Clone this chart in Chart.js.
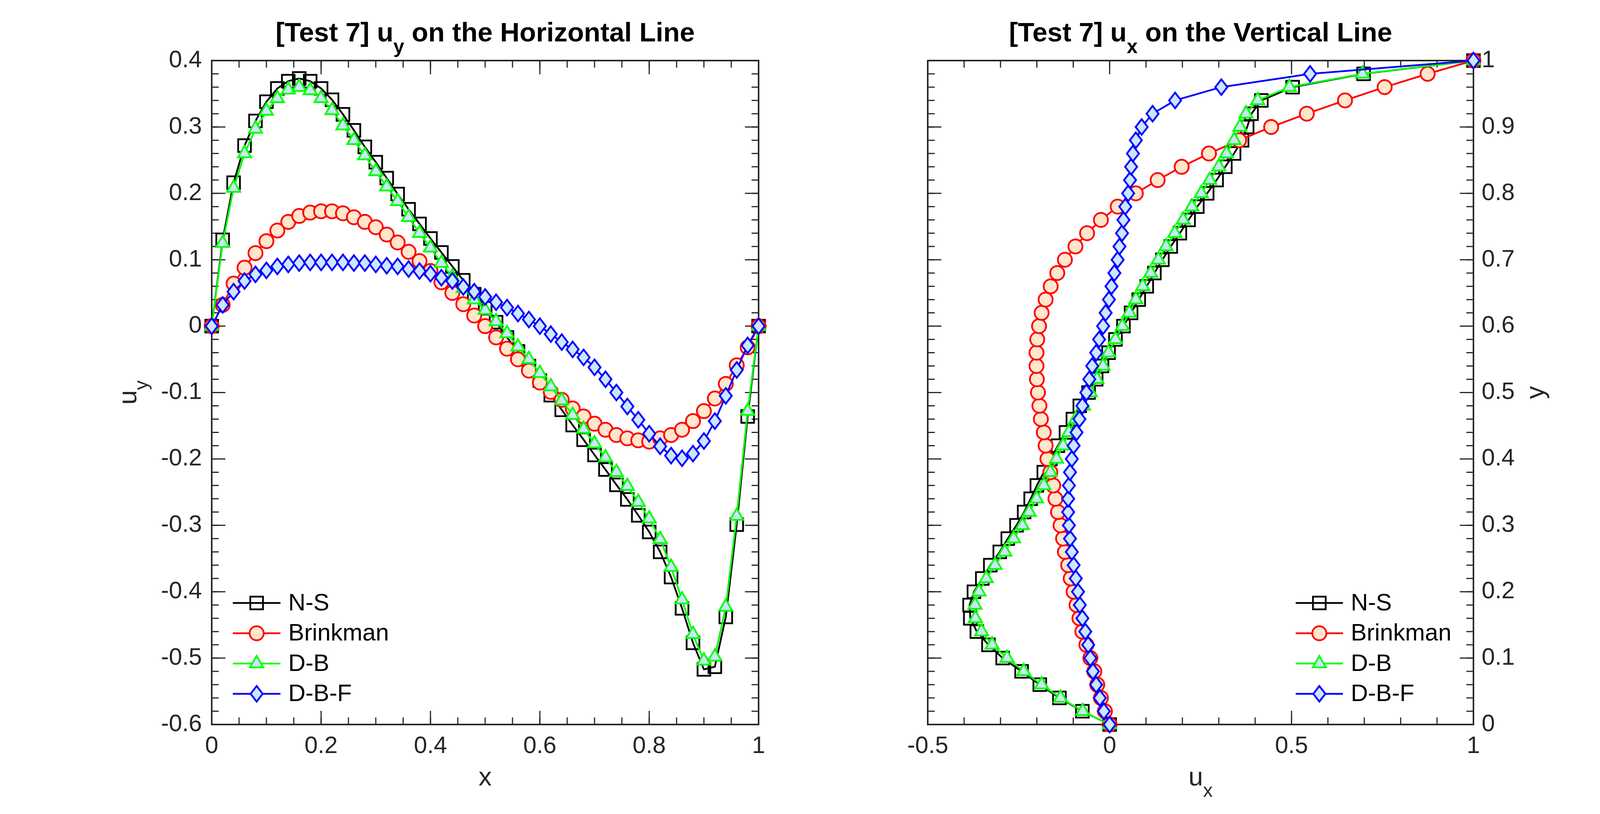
<!DOCTYPE html>
<html>
<head>
<meta charset="utf-8">
<title>[Test 7] velocity profiles</title>
<script src="https://cdn.jsdelivr.net/npm/chart.js@4.4.1/dist/chart.umd.min.js"></script>
<style>
    html, body { margin: 0; padding: 0; background: #ffffff; }
    .plot { position: absolute; left: 0; top: 0; }
</style>
</head>
<body>
<canvas id="horizontalChart" class="plot" width="4167" height="2083"></canvas>
<canvas id="verticalChart" class="plot" width="4167" height="2083"></canvas>
<script>
// sample positions along both centre lines (x for the left plot, y for the right one)
const gridPoints = [
    0, 0.02, 0.04, 0.06, 0.08, 0.10, 0.12, 0.14, 0.16, 0.18,
    0.20, 0.22, 0.24, 0.26, 0.28, 0.30, 0.32, 0.34, 0.36, 0.38,
    0.40, 0.42, 0.44, 0.46, 0.48, 0.50, 0.52, 0.54, 0.56, 0.58,
    0.60, 0.62, 0.64, 0.66, 0.68, 0.70, 0.72, 0.74, 0.76, 0.78,
    0.80, 0.82, 0.84, 0.86, 0.88, 0.90, 0.92, 0.94, 0.96, 0.98, 1
];

const seriesNames = ['N-S', 'Brinkman', 'D-B', 'D-B-F'];

// u_y on the horizontal line
const uyNS = [
    0, 0.130, 0.216, 0.272, 0.309, 0.338, 0.358, 0.369, 0.373, 0.369,
    0.358, 0.341, 0.319, 0.295, 0.270, 0.247, 0.223, 0.199, 0.176, 0.154,
    0.132, 0.111, 0.090, 0.069, 0.048, 0.027, 0.006, -0.017, -0.038, -0.060,
    -0.082, -0.104, -0.126, -0.149, -0.171, -0.194, -0.216, -0.239, -0.261, -0.285,
    -0.310, -0.340, -0.378, -0.425, -0.477, -0.517, -0.513, -0.438, -0.299, -0.136, 0
];
const uyBrinkman = [
    0, 0.032, 0.064, 0.088, 0.110, 0.128, 0.144, 0.157, 0.166, 0.171,
    0.173, 0.173, 0.170, 0.164, 0.157, 0.149, 0.138, 0.126, 0.112, 0.098,
    0.083, 0.066, 0.050, 0.033, 0.016, 0.000, -0.017, -0.034, -0.050, -0.067,
    -0.085, -0.099, -0.111, -0.124, -0.136, -0.147, -0.156, -0.164, -0.169, -0.172,
    -0.174, -0.169, -0.164, -0.156, -0.143, -0.128, -0.109, -0.087, -0.059, -0.032, 0
];
const uyDB = [
    0, 0.125, 0.208, 0.260, 0.297, 0.324, 0.343, 0.356, 0.360, 0.355,
    0.343, 0.325, 0.302, 0.280, 0.257, 0.233, 0.210, 0.188, 0.164, 0.140,
    0.118, 0.095, 0.074, 0.057, 0.040, 0.024, 0.007, -0.011, -0.031, -0.050,
    -0.071, -0.091, -0.112, -0.134, -0.155, -0.177, -0.198, -0.220, -0.241, -0.265,
    -0.290, -0.321, -0.363, -0.412, -0.464, -0.504, -0.498, -0.423, -0.286, -0.128, 0
];
const uyDBF = [
    0, 0.032, 0.052, 0.068, 0.078, 0.084, 0.090, 0.093, 0.095, 0.096,
    0.096, 0.096, 0.096, 0.095, 0.095, 0.093, 0.091, 0.090, 0.086, 0.083,
    0.079, 0.073, 0.068, 0.059, 0.052, 0.044, 0.036, 0.028, 0.019, 0.010,
    0.000, -0.012, -0.024, -0.035, -0.047, -0.062, -0.080, -0.100, -0.121, -0.141,
    -0.162, -0.181, -0.195, -0.199, -0.192, -0.173, -0.143, -0.105, -0.066, -0.029, 0
];

// u_x on the vertical line (listed from y = 0 up to y = 1)
const uxNS = [
    0, -0.075, -0.138, -0.192, -0.242, -0.294, -0.333, -0.365, -0.383, -0.385,
    -0.373, -0.350, -0.328, -0.302, -0.280, -0.256, -0.235, -0.217, -0.200, -0.181,
    -0.163, -0.142, -0.120, -0.101, -0.082, -0.058, -0.037, -0.021, -0.003, 0.016,
    0.038, 0.059, 0.080, 0.102, 0.123, 0.145, 0.168, 0.193, 0.217, 0.241,
    0.268, 0.294, 0.318, 0.342, 0.364, 0.378, 0.390, 0.417, 0.503, 0.698, 1
];
const uxBrinkman = [
    0, -0.013, -0.024, -0.034, -0.042, -0.053, -0.064, -0.075, -0.083, -0.091,
    -0.099, -0.107, -0.114, -0.123, -0.128, -0.135, -0.142, -0.149, -0.155, -0.163,
    -0.171, -0.176, -0.181, -0.189, -0.193, -0.197, -0.200, -0.201, -0.201, -0.199,
    -0.194, -0.187, -0.176, -0.162, -0.144, -0.123, -0.094, -0.062, -0.024, 0.022,
    0.072, 0.132, 0.198, 0.273, 0.356, 0.444, 0.542, 0.647, 0.756, 0.874, 1
];
const uxDB = [
    0, -0.074, -0.135, -0.187, -0.236, -0.282, -0.323, -0.352, -0.369, -0.370,
    -0.359, -0.339, -0.315, -0.288, -0.264, -0.240, -0.221, -0.201, -0.181, -0.163,
    -0.146, -0.128, -0.112, -0.093, -0.072, -0.053, -0.035, -0.018, -0.003, 0.016,
    0.035, 0.054, 0.072, 0.091, 0.113, 0.134, 0.155, 0.179, 0.202, 0.226,
    0.252, 0.275, 0.300, 0.321, 0.342, 0.358, 0.375, 0.407, 0.494, 0.695, 1
];
const uxDBF = [
    0, -0.016, -0.027, -0.037, -0.046, -0.053, -0.059, -0.067, -0.075, -0.082,
    -0.087, -0.093, -0.099, -0.104, -0.109, -0.112, -0.114, -0.114, -0.112, -0.109,
    -0.104, -0.099, -0.091, -0.083, -0.075, -0.064, -0.056, -0.048, -0.037, -0.029,
    -0.018, -0.011, -0.002, 0.005, 0.013, 0.022, 0.027, 0.034, 0.038, 0.043,
    0.051, 0.056, 0.059, 0.064, 0.072, 0.088, 0.118, 0.180, 0.307, 0.551, 1
];

// tick labels
const leftXTicks = [0, 0.2, 0.4, 0.6, 0.8, 1];
const leftYTicks = [-0.6, -0.5, -0.4, -0.3, -0.2, -0.1, 0, 0.1, 0.2, 0.3, 0.4];
const rightXTicks = [-0.5, 0, 0.5, 1];
const rightYTicks = [0, 0.1, 0.2, 0.3, 0.4, 0.5, 0.6, 0.7, 0.8, 0.9, 1];

const PAGE_W = 4167;
const PAGE_H = 2083;
const FONT_FAMILY = '"Liberation Sans", Arial, Helvetica, sans-serif';
const AXIS_COLOR = '#262626';
const LINE_W = 4.5;

// MATLAB's diamond marker is taller than it is wide, so draw it once into a small canvas
function diamondMarker(w, h, lw, stroke, fill) {
    const c = document.createElement('canvas');
    c.width = Math.ceil(w + lw * 2 + 8);
    c.height = Math.ceil(h + lw * 2 + 10);
    const g = c.getContext('2d');
    const cx = c.width / 2;
    const cy = c.height / 2;
    g.beginPath();
    g.moveTo(cx, cy - h / 2);
    g.lineTo(cx + w / 2, cy);
    g.lineTo(cx, cy + h / 2);
    g.lineTo(cx - w / 2, cy);
    g.closePath();
    g.fillStyle = fill;
    g.fill();
    g.lineWidth = lw;
    g.strokeStyle = stroke;
    g.stroke();
    return c;
}

const seriesStyles = [
    { color: '#000000', fill: 'rgba(0,0,0,0)', pointStyle: 'rect', radius: 23 },
    { color: '#ff0000', fill: '#ffe6cc', pointStyle: 'circle', radius: 18 },
    { color: '#00ff00', fill: '#cce6ff', pointStyle: 'triangle', radius: 19.5 },
    { color: '#0000ff', fill: '#cce6ff', pointStyle: diamondMarker(31, 40, LINE_W, '#0000ff', '#cce6ff'), radius: 19 }
];

function formatTick(value) {
    return String(Math.round(value * 10) / 10);
}

function drawRichText(ctx, parts, x, y, size, weight, color, angle) {
    const subSize = Math.round(size * 0.73);
    const shift = Math.round(size * 0.44);
    const fontFor = sub => `${weight} ${sub ? subSize : size}px ${FONT_FAMILY}`;
    ctx.save();
    ctx.translate(x, y);
    if (angle) ctx.rotate(angle);
    ctx.fillStyle = color;
    ctx.textAlign = 'left';
    ctx.textBaseline = 'alphabetic';
    let total = 0;
    parts.forEach(p => {
        ctx.font = fontFor(p[1]);
        total += ctx.measureText(p[0]).width;
    });
    let cx = -total / 2;
    parts.forEach(p => {
        ctx.font = fontFor(p[1]);
        ctx.fillText(p[0], cx, p[1] ? shift : 0);
        cx += ctx.measureText(p[0]).width;
    });
    ctx.restore();
}

// box with inward ticks on all four sides, MATLAB style
const boxTicks = {
    id: 'boxTicks',
    beforeDatasetsDraw(chart, args, opts) {
        const { ctx, chartArea: a } = chart;
        const xs = chart.scales.x;
        const ys = chart.scales.y;
        ctx.save();
        ctx.strokeStyle = AXIS_COLOR;
        ctx.lineWidth = 3;
        const marks = (scale, step, len) => {
            const n = Math.round((scale.max - scale.min) / step);
            for (let i = 0; i <= n; i++) {
                const p = scale.getPixelForValue(scale.min + i * step);
                ctx.beginPath();
                if (scale === xs) {
                    ctx.moveTo(p, a.bottom); ctx.lineTo(p, a.bottom - len);
                    ctx.moveTo(p, a.top); ctx.lineTo(p, a.top + len);
                } else {
                    ctx.moveTo(a.left, p); ctx.lineTo(a.left + len, p);
                    ctx.moveTo(a.right, p); ctx.lineTo(a.right - len, p);
                }
                ctx.stroke();
            }
        };
        marks(xs, opts.xMinor, 18);
        marks(ys, opts.yMinor, 18);
        xs.ticks.forEach(t => {
            const p = xs.getPixelForValue(t.value);
            ctx.beginPath();
            ctx.moveTo(p, a.bottom); ctx.lineTo(p, a.bottom - 35);
            ctx.moveTo(p, a.top); ctx.lineTo(p, a.top + 35);
            ctx.stroke();
        });
        ys.ticks.forEach(t => {
            const p = ys.getPixelForValue(t.value);
            ctx.beginPath();
            ctx.moveTo(a.left, p); ctx.lineTo(a.left + 35, p);
            ctx.moveTo(a.right, p); ctx.lineTo(a.right - 35, p);
            ctx.stroke();
        });
        ctx.lineWidth = 4;
        ctx.strokeRect(a.left, a.top, a.right - a.left, a.bottom - a.top);
        ctx.restore();
    }
};

const boxLegend = {
    id: 'boxLegend',
    afterDatasetsDraw(chart, args, opts) {
        const ctx = chart.ctx;
        ctx.save();
        chart.data.datasets.forEach((ds, i) => {
            const y = opts.y0 + i * opts.dy;
            ctx.strokeStyle = ds.borderColor;
            ctx.lineWidth = ds.borderWidth;
            ctx.beginPath();
            ctx.moveTo(opts.x1, y);
            ctx.lineTo(opts.x2, y);
            ctx.stroke();
            ctx.fillStyle = ds.pointBackgroundColor;
            ctx.lineWidth = ds.pointBorderWidth;
            Chart.helpers.drawPoint(ctx, {
                pointStyle: ds.pointStyle,
                radius: ds.pointRadius,
                borderWidth: ds.pointBorderWidth,
                rotation: 0
            }, (opts.x1 + opts.x2) / 2, y);
            ctx.fillStyle = '#000000';
            ctx.font = `61px ${FONT_FAMILY}`;
            ctx.textAlign = 'left';
            ctx.textBaseline = 'middle';
            ctx.fillText(ds.label, opts.xText, y + 2);
        });
        ctx.restore();
    }
};

const plotLabels = {
    id: 'plotLabels',
    afterDraw(chart, args, opts) {
        const { ctx, chartArea: a } = chart;
        const cx = (a.left + a.right) / 2;
        const cy = (a.top + a.bottom) / 2;
        drawRichText(ctx, opts.title, cx, 106, 69, 'bold', '#000000', 0);
        drawRichText(ctx, opts.xLabel, cx, 2010, 67, 'normal', AXIS_COLOR, 0);
        drawRichText(ctx, opts.yLabel, opts.yLabelX, cy, 67, 'normal', AXIS_COLOR, -Math.PI / 2);
    }
};

function makeDatasets(seriesList, horizontal) {
    return seriesList.map((values, i) => {
        const st = seriesStyles[i];
        return {
            label: seriesNames[i],
            data: gridPoints.map((g, k) => horizontal ? { x: g, y: values[k] } : { x: values[k], y: g }),
            showLine: true,
            borderColor: st.color,
            borderWidth: LINE_W,
            pointStyle: st.pointStyle,
            pointRadius: st.radius,
            pointHoverRadius: st.radius,
            pointBorderWidth: LINE_W,
            pointBorderColor: st.color,
            pointBackgroundColor: st.fill,
            tension: 0,
            clip: false,
            order: seriesList.length - i
        };
    });
}

function axis(min, max, tickList, position, fit) {
    return {
        type: 'linear',
        position: position,
        min: min,
        max: max,
        afterBuildTicks: scale => { scale.ticks = tickList.map(v => ({ value: v })); },
        afterFit: fit,
        ticks: {
            autoSkip: false,
            maxRotation: 0,
            padding: position === 'bottom' ? 20 : (position === 'left' ? 25 : 21),
            color: AXIS_COLOR,
            font: { family: FONT_FAMILY, size: 61 },
            callback: formatTick
        },
        grid: { display: false, drawTicks: false },
        border: { display: false }
    };
}

const leftArea = { left: 542, right: 1942, top: 155, bottom: 1854 };
const rightArea = { left: 2375, right: 3772, top: 155, bottom: 1854 };

new Chart(document.getElementById('horizontalChart'), {
    type: 'scatter',
    data: { datasets: makeDatasets([uyNS, uyBrinkman, uyDB, uyDBF], true) },
    options: {
        responsive: false,
        animation: false,
        devicePixelRatio: 1,
        events: [],
        layout: { padding: { left: 0, right: PAGE_W - leftArea.right, top: leftArea.top, bottom: 0 } },
        scales: {
            x: axis(0, 1, leftXTicks, 'bottom', s => { s.height = PAGE_H - leftArea.bottom; }),
            y: axis(-0.6, 0.4, leftYTicks, 'left', s => { s.width = leftArea.left; })
        },
        plugins: {
            legend: { display: false },
            tooltip: { enabled: false },
            boxTicks: { xMinor: 0.05, yMinor: 0.02 },
            boxLegend: { x1: 596, x2: 718, xText: 738, y0: 1543, dy: 77.5 },
            plotLabels: {
                title: [['[Test 7] u'], ['y', true], [' on the Horizontal Line']],
                xLabel: [['x']],
                yLabel: [['u'], ['y', true]],
                yLabelX: 349
            }
        }
    },
    plugins: [boxTicks, boxLegend, plotLabels]
});

new Chart(document.getElementById('verticalChart'), {
    type: 'scatter',
    data: { datasets: makeDatasets([uxNS, uxBrinkman, uxDB, uxDBF], false) },
    options: {
        responsive: false,
        animation: false,
        devicePixelRatio: 1,
        events: [],
        layout: { padding: { left: rightArea.left, right: 0, top: rightArea.top, bottom: 0 } },
        scales: {
            x: axis(-0.5, 1, rightXTicks, 'bottom', s => { s.height = PAGE_H - rightArea.bottom; }),
            y: axis(0, 1, rightYTicks, 'right', s => { s.width = PAGE_W - rightArea.right; })
        },
        plugins: {
            legend: { display: false },
            tooltip: { enabled: false },
            boxTicks: { xMinor: 0.1, yMinor: 0.02 },
            boxLegend: { x1: 3317, x2: 3438, xText: 3458, y0: 1543, dy: 77.5 },
            plotLabels: {
                title: [['[Test 7] u'], ['x', true], [' on the Vertical Line']],
                xLabel: [['u'], ['x', true]],
                yLabel: [['y']],
                yLabelX: 3952
            }
        }
    },
    plugins: [boxTicks, boxLegend, plotLabels]
});
</script>
</body>
</html>
